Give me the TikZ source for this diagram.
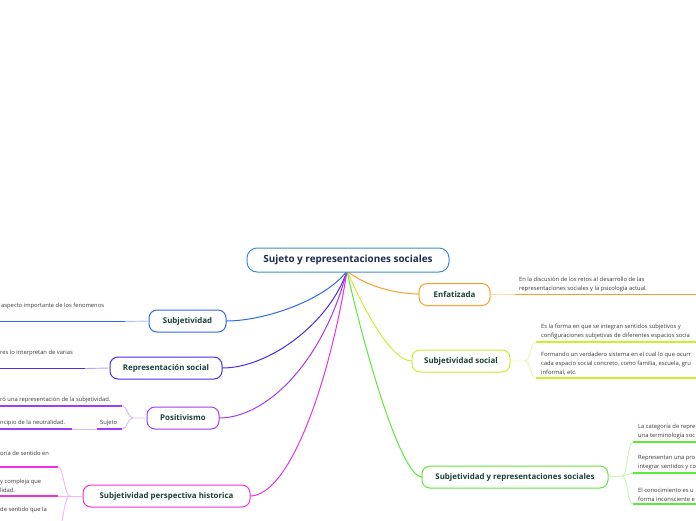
\documentclass[tikz,border=0pt]{standalone}
\usepackage{fontspec}
\setmainfont{Open Sans}
\definecolor{cblue}{HTML}{2F6BE6}\definecolor{lblue}{HTML}{A8C4F4}
\definecolor{cind}{HTML}{4B2CE6}\definecolor{lind}{HTML}{B4A8F4}
\definecolor{cpur}{HTML}{A33CF0}\definecolor{lpur}{HTML}{DCB8F8}
\definecolor{cmag}{HTML}{F030E0}\definecolor{lmag}{HTML}{F8B4F0}
\definecolor{cora}{HTML}{F7A02A}\definecolor{lora}{HTML}{FCDAAA}
\definecolor{cyel}{HTML}{C8F030}\definecolor{lyel}{HTML}{ECF8B4}
\definecolor{cgre}{HTML}{5EE838}\definecolor{lgre}{HTML}{C8F4B8}
\definecolor{cctr}{HTML}{3A8ED8}
\definecolor{tctr}{HTML}{1D2B4F}
\definecolor{tnode}{HTML}{1A4038}
\definecolor{tleaf}{HTML}{3A3A3A}
\tikzset{
  topic/.style={draw, rounded corners=8pt, line width=1pt, fill=white,
    font=\bfseries\fontsize{7.9}{9}\selectfont, text=tnode, minimum height=22pt, inner sep=0pt},
  central/.style={draw=cctr, rounded corners=10pt, line width=1pt, fill=white,
    font=\bfseries\fontsize{9.9}{11}\selectfont, text=tctr, minimum height=24pt, minimum width=202pt, inner sep=0pt},
  leaf/.style={anchor=south west, inner sep=0pt, align=left, text=tleaf,
    font=\fontsize{5.8}{9}\selectfont},
  mainline/.style={line width=1pt},
  bar/.style={line width=1.6pt},
  thin/.style={line width=0.9pt},
}
\begin{document}
\begin{tikzpicture}[x=1pt,y=-1pt]
\useasboundingbox (0,0) rectangle (696,520);
\clip (0,0) rectangle (696,520);
\fill[white] (0,0) rectangle (696,520);

% ---------- main curves (drawn first, nodes on top)
\coordinate (o) at (347,271);
\draw[mainline, cblue] (o) .. controls (325,300) and (265,321) .. (226,321);
\draw[mainline, cind]  (o) .. controls (330,322) and (270,368) .. (222,368);
\draw[mainline, cpur]  (o) .. controls (322,365) and (265,418) .. (219,418);
\draw[mainline, cmag]  (o) .. controls (330,380) and (290,496) .. (250,496);
\draw[mainline, cora]  (o) .. controls (368,288) and (400,294) .. (419,294);
\draw[mainline, cyel]  (o) .. controls (362,305) and (390,361) .. (412,361);
\draw[mainline, cgre]  (o) .. controls (362,340) and (400,477) .. (422,477);

% ---------- central
\node[central] (c) at (348,260) {Sujeto y representaciones sociales};

% ---------- left topics
\node[topic, draw=cblue, minimum width=77pt] (s1) at (187.5,321) {Subjetividad};
\node[topic, draw=cind, minimum width=112pt] (s2) at (166,368) {Representación social};
\node[topic, draw=cpur, minimum width=72pt] (s3) at (183,418) {Positivismo};
\node[topic, draw=cmag, minimum width=167pt] (s4) at (166.5,496) {Subjetividad perspectiva historica};

% ---------- right topics
\node[topic, draw=cora, minimum width=71pt] (s5) at (454.5,294.5) {Enfatizada};
\node[topic, draw=cyel, minimum width=98pt] (s6) at (461,361) {Subjetividad social};
\node[topic, draw=cgre, minimum width=186pt] (s7) at (515,477) {Subjetividad y representaciones sociales};

% ---------- Subjetividad branch
\coordinate (a1) at (125,321.5); \coordinate (a1e) at (-2,321.5);
\draw[thin, lblue] (s1.west) -- (a1);
\draw[bar, cblue] (a1) -- (a1e);
\node[leaf] (t1) at (1,309.5) {aspecto importante de los fenomenos};

% ---------- Representacion social branch
\coordinate (a2) at (85,368.5); \coordinate (a2e) at (-2,368.5);
\draw[thin, lind] (s2.west) -- (a2);
\draw[bar, cind] (a2) -- (a2e);
\node[leaf] (t2) at (0,356) {res lo interpretan de varias};

% ---------- Positivismo branch
\coordinate (p0) at (133,418);
\coordinate (p1) at (122,406); \coordinate (p1e) at (-2,406);
\coordinate (p2) at (122,429); \coordinate (p2m) at (97,429);
\coordinate (p2n) at (72,429); \coordinate (p2e) at (-2,429);
\draw[thin, lpur] (s3.west) -- (p0) .. controls (127,418) and (128,406) .. (p1);
\draw[thin, lpur] (p0) .. controls (127,418) and (128,429) .. (p2);
\draw[bar, cpur] (p1) -- (p1e);
\draw[bar, cpur] (p2) -- (p2m);
\draw[thin, lpur] (p2m) -- (p2n);
\draw[bar, cpur] (p2n) -- (p2e);
\node[leaf] (t3) at (0,403) {ró una representación de la subjetividad.};
\node[leaf] (t4) at (100,426) {Sujeto};
\node[leaf] (t5) at (0,426) {ncipio de la neutralidad.};

% ---------- Subjetividad perspectiva historica branch
\coordinate (h0) at (70,496);
\coordinate (h1) at (58,467); \coordinate (h1e) at (-2,467);
\coordinate (h2) at (58,496); \coordinate (h2e) at (-2,496);
\coordinate (h3) at (60,526);
\draw[thin, lmag] (s4.west) -- (h2);
\draw[thin, lmag] (h0) .. controls (64,496) and (64,467) .. (h1);
\draw[thin, lmag] (h0) .. controls (64,496) and (64,520) .. (h3);
\draw[bar, cmag] (h1) -- (h1e);
\draw[bar, cmag] (h2) -- (h2e);
\node[leaf] (t6) at (0,456) {oría de sentido en};
\node[leaf] (t7) at (0,493) {y compleja que\\lidad.};
\node[leaf] (t8) at (0,513) {de sentido que la};

% ---------- Enfatizada branch
\coordinate (e1) at (515,294.5); \coordinate (e1e) at (698,294.5);
\draw[thin, lora] (s5.east) -- (e1);
\draw[bar, cora] (e1) -- (e1e);
\node[leaf] (t9) at (519,292) {En la discusión de los retos al desarrollo de las\\representaciones sociales y la psicología actual.};

% ---------- Subjetividad social branch
\coordinate (g0) at (525,361);
\coordinate (g1) at (536,342); \coordinate (g1e) at (698,342);
\coordinate (g2) at (536,378); \coordinate (g2e) at (698,378);
\draw[thin, lyel] (s6.east) -- (g0) .. controls (531,361) and (530,342) .. (g1);
\draw[thin, lyel] (g0) .. controls (531,361) and (530,378) .. (g2);
\draw[bar, cyel] (g1) -- (g1e);
\draw[bar, cyel] (g2) -- (g2e);
\node[leaf] (t10) at (541,339.5) {Es la forma en que se integran sentidos subjetivos y\\configuraciones subjetivas de diferentes espacios socia};
\node[leaf] (t11) at (541,375.5) {Formando un verdadero sistema en el cual lo que ocurr\\cada espacio social concreto, como familia, escuela, gru\\informal, etc.};

% ---------- Subjetividad y representaciones sociales branch
\coordinate (k0) at (622,476);
\coordinate (k1) at (633,442); \coordinate (k1e) at (698,442);
\coordinate (k2) at (633,473); \coordinate (k2e) at (698,473);
\coordinate (k3) at (633,504); \coordinate (k3e) at (698,504);
\draw[thin, lgre] (s7.east) -- (k0) .. controls (628,476) and (627,442) .. (k1);
\draw[thin, lgre] (k0) -- (k2);
\draw[thin, lgre] (k0) .. controls (628,476) and (627,504) .. (k3);
\draw[bar, cgre] (k1) -- (k1e);
\draw[bar, cgre] (k2) -- (k2e);
\draw[bar, cgre] (k3) -- (k3e);
\node[leaf] (t12) at (638,439.5) {La categoría de repre\\una terminología soc};
\node[leaf] (t13) at (638,470.5) {Representan una pro\\integrar sentidos y co};
\node[leaf] (t14) at (638,501.5) {El conocimiento es u\\forma inconsciente e};
\end{tikzpicture}
\end{document}
